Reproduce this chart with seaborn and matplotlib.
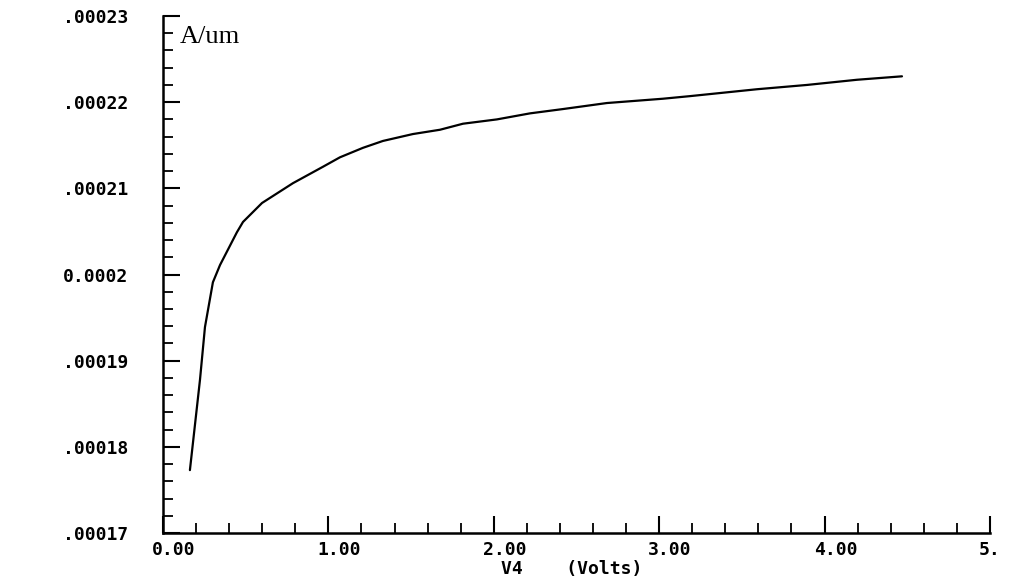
import pandas as pd
import matplotlib
matplotlib.use("Agg")
import matplotlib.pyplot as plt
import matplotlib.transforms as mtransforms
from matplotlib.ticker import MultipleLocator
import seaborn as sns

# 曲线数据
v4 = [0.163, 0.224, 0.254, 0.302, 0.345, 0.447, 0.484, 0.599, 0.786, 0.967,
      1.070, 1.209, 1.330, 1.511, 1.675, 1.814, 2.019, 2.219, 2.418, 2.684,
      3.023, 3.186, 3.591, 3.894, 4.196, 4.468]
current = [0.0001773, 0.0001878, 0.0001939, 0.0001991, 0.0002011, 0.0002049,
           0.0002061, 0.0002083, 0.0002106, 0.0002125, 0.0002136, 0.0002147,
           0.0002155, 0.0002163, 0.0002168, 0.0002175, 0.0002180, 0.0002187,
           0.0002192, 0.0002199, 0.0002204, 0.0002207, 0.0002215, 0.0002220,
           0.0002226, 0.0002230]

x_ticks = [0, 1, 2, 3, 4, 5]
x_labels = ['0.00', '1.00', '2.00', '3.00', '4.00', '5.']
y_ticks = [0.00017, 0.00018, 0.00019, 0.00020, 0.00021, 0.00022, 0.00023]
y_labels = ['.00017', '.00018', '.00019', '0.0002', '.00021', '.00022', '.00023']

df = pd.DataFrame({'V4': v4, 'I': current})

sns.set_style('white')
plt.rcParams['font.family'] = ['DejaVu Sans Mono', 'DejaVu Sans']
plt.rcParams['text.color'] = 'black'
plt.rcParams['xtick.color'] = 'black'
plt.rcParams['ytick.color'] = 'black'

fig = plt.figure(figsize=(10.14, 5.86), dpi=100)
ax = fig.add_axes([0.1607, 0.0904, 0.8156, 0.8823])

sns.lineplot(data=df, x='V4', y='I', ax=ax, sort=False, color='black', linewidth=1.6)

ax.set_xlim(0, 5)
ax.set_ylim(0.00017, 0.00023)

# 坐标轴样式
for side in ['top', 'right']:
    ax.spines[side].set_visible(False)
for side in ['left', 'bottom']:
    ax.spines[side].set_linewidth(1.8)
    ax.spines[side].set_color('black')

ax.set_xticks(x_ticks)
ax.set_xticklabels(x_labels)
ax.set_yticks(y_ticks)
ax.set_yticklabels(y_labels)
ax.xaxis.set_minor_locator(MultipleLocator(0.2))
ax.yaxis.set_minor_locator(MultipleLocator(0.000002))

ax.tick_params(which='both', bottom=True, left=True, top=False, right=False)
ax.tick_params(which='major', direction='in', length=12, width=1.5, color='black')
ax.tick_params(which='minor', direction='in', length=7, width=1.3, color='black')
ax.tick_params(axis='y', which='major', pad=25, labelsize=13)
ax.tick_params(axis='x', which='major', pad=6, labelsize=13)

for lab in ax.get_xticklabels():
    lab.set_horizontalalignment('left')
    lab.set_transform(lab.get_transform() + mtransforms.ScaledTranslation(-11 / 100, 0, fig.dpi_scale_trans))
for lab in ax.get_xticklabels() + ax.get_yticklabels():
    lab.set_fontweight('bold')
    lab.set_color('black')

ax.set_xlabel('')
ax.set_ylabel('')

# 坐标轴标题
fig.text(572 / 1014, 1 - 569 / 586, 'V4    (Volts)', ha='center', va='center',
         fontsize=13, fontweight='bold', color='black')
fig.text(180 / 1014, 1 - 26 / 586, 'A/um', ha='left', va='top', color='black',
         fontsize=19, family=['Liberation Serif', 'DejaVu Serif'])

fig.savefig('out.png', dpi=100, facecolor='white')
